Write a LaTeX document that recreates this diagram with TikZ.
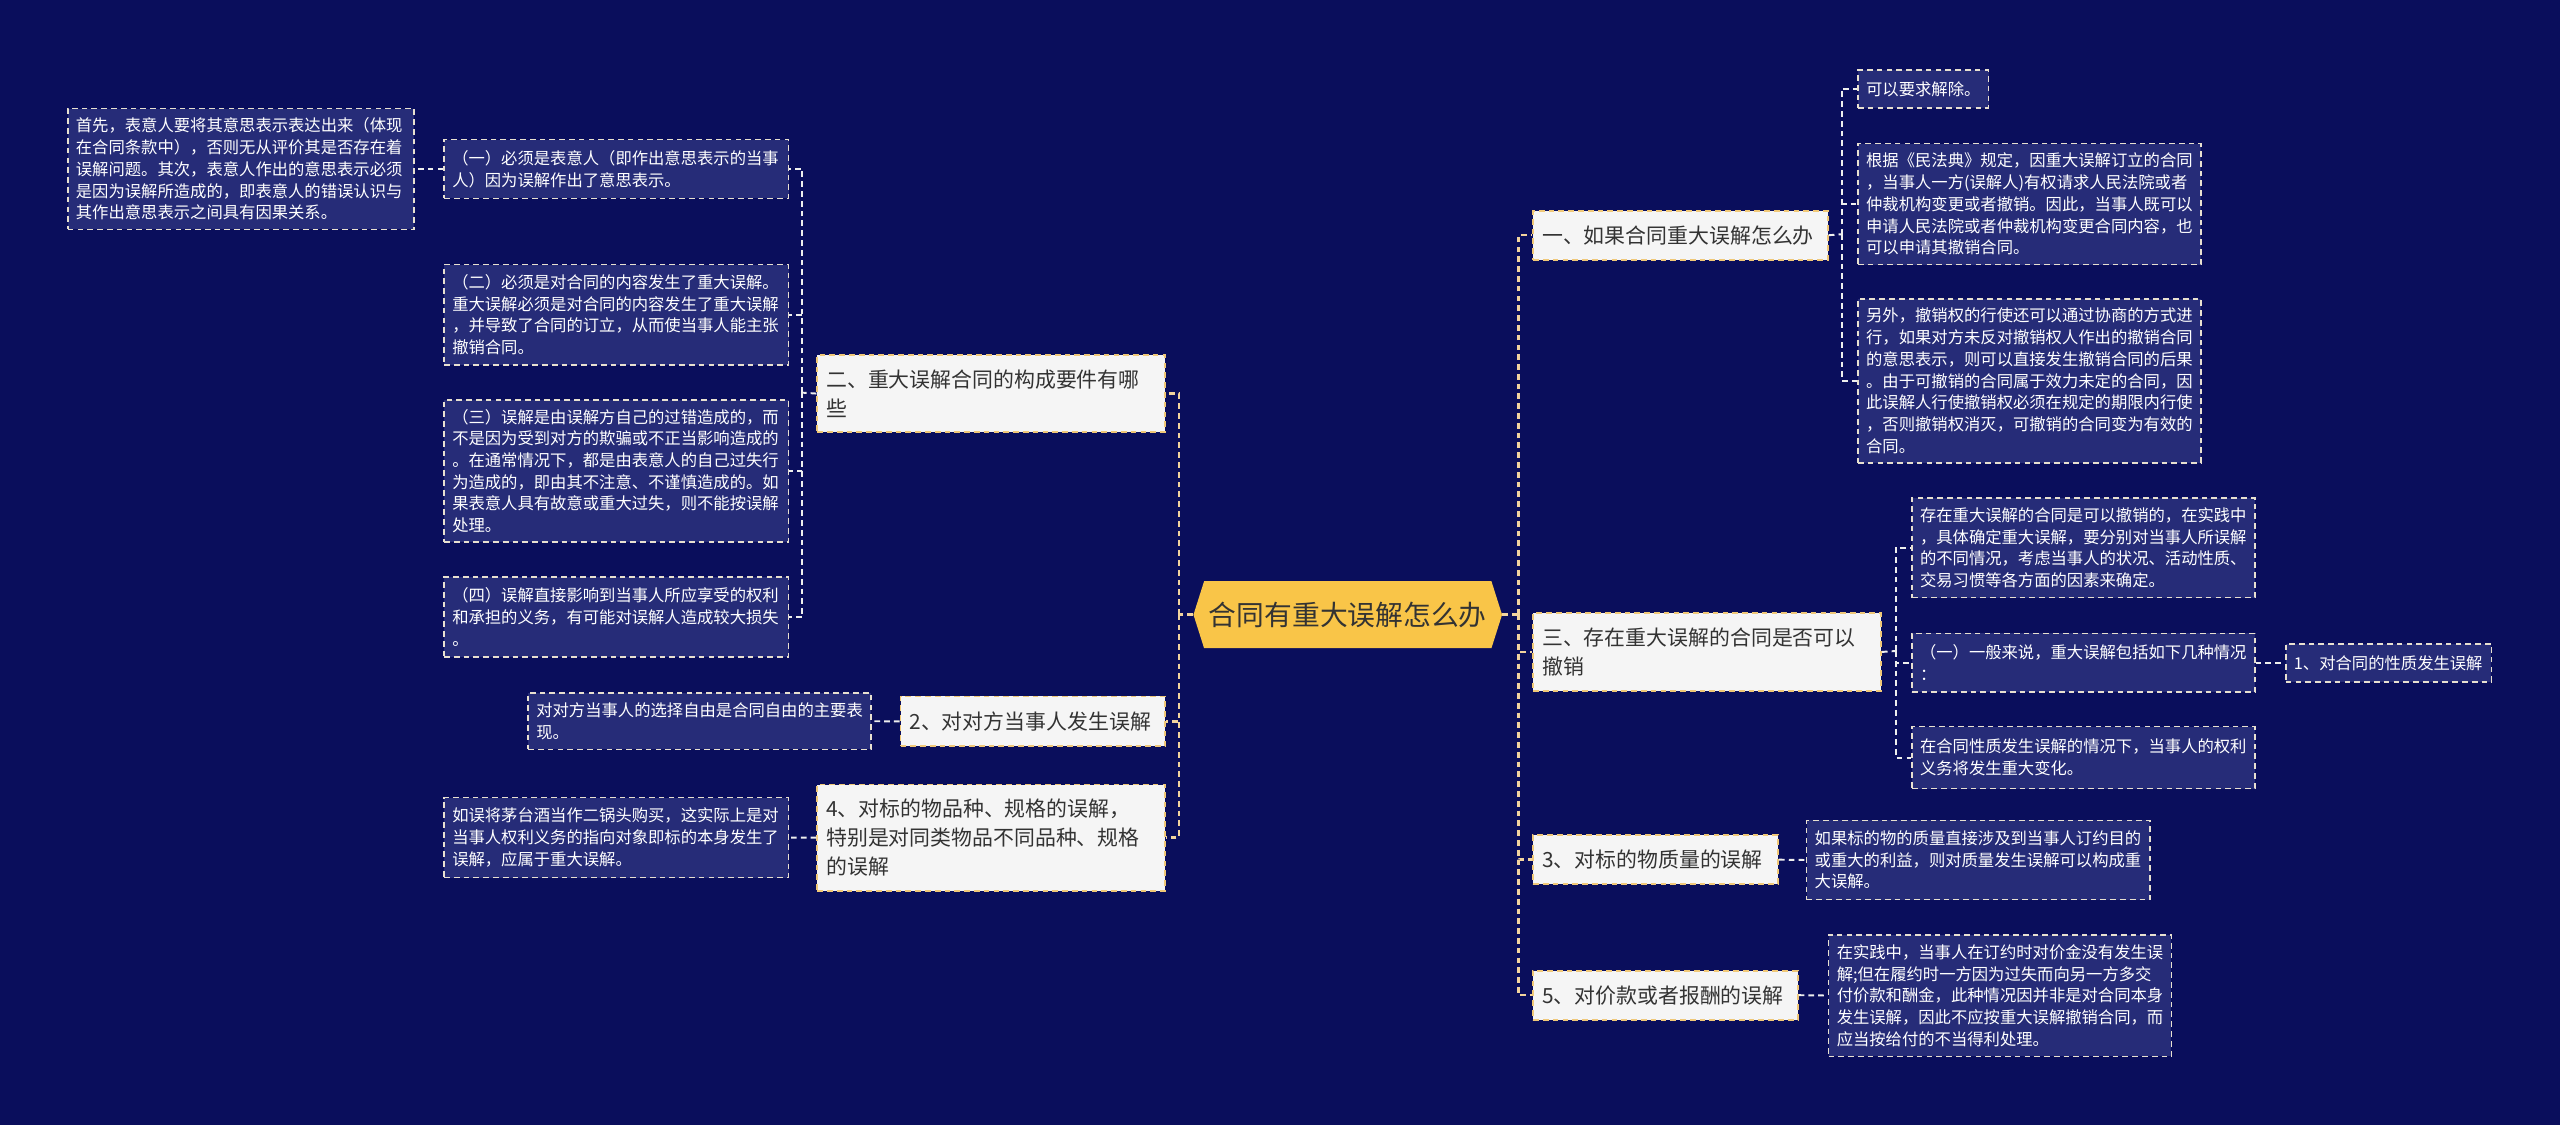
\documentclass[tikz,border=0pt]{standalone}
\usepackage{fontspec}
\setmainfont{Noto Sans CJK SC}
\definecolor{bg}{HTML}{0A0E5C}
\definecolor{boxfill}{HTML}{262C78}
\definecolor{yel}{HTML}{F0C878}
\definecolor{peach}{HTML}{F2D49E}
\definecolor{rootfill}{HTML}{F9C548}
\definecolor{beige}{HTML}{E8E0D0}
\definecolor{wline}{HTML}{EEEEEE}
\definecolor{lightbox}{HTML}{F5F5F5}
\definecolor{dtext}{HTML}{333333}
\tikzset{
  topic/.style={draw=yel, fill=lightbox, line width=1.1pt, dash pattern=on 3.5pt off 2.5pt,
    text=dtext, font=\fontsize{12.8}{18}\selectfont, anchor=north west,
    inner xsep=5.5pt, inner ysep=2pt, align=left},
  leaf/.style={draw=beige, fill=boxfill, line width=1pt, dash pattern=on 3.5pt off 2.5pt,
    text=white, font=\fontsize{10}{13.3}\selectfont, anchor=north west,
    inner xsep=5pt, inner ysep=2pt, align=left},
  conn/.style={draw=peach, line width=1.5pt, dash pattern=on 3.5pt off 2.5pt},
  conn2/.style={draw=wline, line width=1.2pt, dash pattern=on 3.5pt off 2.5pt}
}
\begin{document}
\begin{tikzpicture}[x=1pt,y=-1pt]
\fill[bg] (0,0) rectangle (1568,689);
\useasboundingbox (0,0) rectangle (1568,689);

% root
\fill[rootfill] (731,376.5) -- (737.5,356) -- (913.5,356) -- (920,376.5) -- (913.5,397) -- (737.5,397) -- cycle;
\node[font=\fontsize{17}{20}\selectfont, text=dtext, minimum width=189pt, minimum height=41pt, inner sep=0pt] (root) at (825.5,376.5) {合同有重大误解怎么办};

% left topics
\node[topic, text width=202pt, minimum width=213pt, minimum height=47pt] (l1) at (500,217) {二、重大误解合同的构成要件有哪\\些};
\node[topic, text width=151pt, minimum width=162pt, minimum height=30.5pt] (l2) at (551,426) {2、对对方当事人发生误解};
\node[topic, text width=202pt, minimum width=213pt, minimum height=65pt] (l3) at (500,480) {4、对标的物品种、规格的误解，\\特别是对同类物品不同品种、规格\\的误解};

% right topics
\node[topic, text width=169.5pt, minimum width=180.5pt, minimum height=30pt] (r1) at (938.5,128.5) {一、如果合同重大误解怎么办};
\node[topic, text width=202pt, minimum width=213pt, minimum height=47.5pt] (r2) at (938.5,375) {三、存在重大误解的合同是否可以\\撤销};
\node[topic, text width=139pt, minimum width=150pt, minimum height=30pt] (r3) at (938.5,511) {3、对标的物质量的误解};
\node[topic, text width=151pt, minimum width=162pt, minimum height=30pt] (r4) at (938.5,594) {5、对价款或者报酬的误解};

% left leaves
\node[leaf, text width=202pt, minimum width=212pt, minimum height=74pt] (a1) at (41,66) {首先，表意人要将其意思表示表达出来（体现\\在合同条款中），否则无从评价其是否存在着\\误解问题。其次，表意人作出的意思表示必须\\是因为误解所造成的，即表意人的错误认识与\\其作出意思表示之间具有因果关系。};
\node[leaf, text width=201pt, minimum width=211pt, minimum height=36pt] (a) at (271.5,85) {（一）必须是表意人（即作出意思表示的当事\\人）因为误解作出了意思表示。};
\node[leaf, text width=201pt, minimum width=211pt, minimum height=61.5pt] (b) at (271.5,161.5) {（二）必须是对合同的内容发生了重大误解。\\重大误解必须是对合同的内容发生了重大误解\\，并导致了合同的订立，从而使当事人能主张\\撤销合同。};
\node[leaf, text width=201pt, minimum width=211pt, minimum height=87pt] (c) at (271.5,244.5) {（三）误解是由误解方自己的过错造成的，而\\不是因为受到对方的欺骗或不正当影响造成的\\。在通常情况下，都是由表意人的自己过失行\\为造成的，即由其不注意、不谨慎造成的。如\\果表意人具有故意或重大过失，则不能按误解\\处理。};
\node[leaf, text width=201pt, minimum width=211pt, minimum height=49pt] (d) at (271.5,353) {（四）误解直接影响到当事人所应享受的权利\\和承担的义务，有可能对误解人造成较大损失\\。};
\node[leaf, text width=200pt, minimum width=210pt, minimum height=34.5pt] (e) at (323,424) {对对方当事人的选择自由是合同自由的主要表\\现。};
\node[leaf, text width=201pt, minimum width=211pt, minimum height=49pt] (f) at (271.5,488) {如误将茅台酒当作二锅头购买，这实际上是对\\当事人权利义务的指向对象即标的本身发生了\\误解，应属于重大误解。};

% right leaves
\node[leaf, text width=70pt, minimum width=80pt, minimum height=23pt] (g) at (1137.5,42.5) {可以要求解除。};
\node[leaf, text width=200pt, minimum width=210pt, minimum height=74pt] (h) at (1137.5,87.5) {根据《民法典》规定，因重大误解订立的合同\\，当事人一方(误解人)有权请求人民法院或者\\仲裁机构变更或者撤销。因此，当事人既可以\\申请人民法院或者仲裁机构变更合同内容，也\\可以申请其撤销合同。};
\node[leaf, text width=200pt, minimum width=210pt, minimum height=100.5pt] (i) at (1137.5,182.5) {另外，撤销权的行使还可以通过协商的方式进\\行，如果对方未反对撤销权人作出的撤销合同\\的意思表示，则可以直接发生撤销合同的后果\\。由于可撤销的合同属于效力未定的合同，因\\此误解人行使撤销权必须在规定的期限内行使\\，否则撤销权消灭，可撤销的合同变为有效的\\合同。};
\node[leaf, text width=200pt, minimum width=210pt, minimum height=61pt] (j) at (1170.5,304.5) {存在重大误解的合同是可以撤销的，在实践中\\，具体确定重大误解，要分别对当事人所误解\\的不同情况，考虑当事人的状况、活动性质、\\交易习惯等各方面的因素来确定。};
\node[leaf, text width=200pt, minimum width=210pt, minimum height=36pt] (k) at (1170.5,387.5) {（一）一般来说，重大误解包括如下几种情况\\：};
\node[leaf, text width=116pt, minimum width=126pt, minimum height=23.5pt] (k1) at (1399.5,393.75) {1、对合同的性质发生误解};
\node[leaf, text width=200pt, minimum width=210pt, minimum height=38pt] (l) at (1170.5,444.5) {在合同性质发生误解的情况下，当事人的权利\\义务将发生重大变化。};
\node[leaf, text width=200.5pt, minimum width=210.5pt, minimum height=48.5pt] (m) at (1106,502) {如果标的物的质量直接涉及到当事人订约目的\\或重大的利益，则对质量发生误解可以构成重\\大误解。};
\node[leaf, text width=200pt, minimum width=210pt, minimum height=74.5pt] (n) at (1119.5,572) {在实践中，当事人在订约时对价金没有发生误\\解;但在履约时一方因为过失而向另一方多交\\付价款和酬金，此种情况因并非是对合同本身\\发生误解，因此不应按重大误解撤销合同，而\\应当按给付的不当得利处理。};

% spines
\coordinate (ls) at (722,376.5);
\coordinate (rs) at (930,376.5);
\draw[conn] (root.west) -- (ls);
\draw[conn] (ls) |- (l1.east);
\draw[conn] (ls) |- (l2.east);
\draw[conn] (ls) |- (l3.east);
\draw[conn] (root.east) -- (rs);
\draw[conn] (rs) |- (r1.west);
\draw[conn] (rs) |- (r2.west);
\draw[conn] (rs) |- (r3.west);
\draw[conn] (rs) |- (r4.west);

% left children
\coordinate (l1b) at (491.5,240.5);
\draw[conn2] (l1.west) -- (l1b);
\draw[conn2] (l1b) |- (a.east);
\draw[conn2] (l1b) |- (b.east);
\draw[conn2] (l1b) |- (c.east);
\draw[conn2] (l1b) |- (d.east);
\draw[conn2] (a.west) -- (a1.east);
\draw[conn2] (l2.west) -- (e.east);
\draw[conn2] (l3.west) -- (f.east);

% right children
\coordinate (r1b) at (1128,143.5);
\draw[conn2] (r1.east) -- (r1b);
\draw[conn2] (r1b) |- (g.west);
\draw[conn2] (r1b) |- (h.west);
\draw[conn2] (r1b) |- (i.west);
\coordinate (r2b) at (1161,398.75);
\draw[conn2] (r2.east) -- (r2b);
\draw[conn2] (r2b) |- (j.west);
\draw[conn2] (r2b) |- (k.west);
\draw[conn2] (r2b) |- (l.west);
\draw[conn2] (k.east) -- (k1.west);
\draw[conn2] (r3.east) -- (m.west);
\draw[conn2] (r4.east) -- (n.west);
\end{tikzpicture}
\end{document}
